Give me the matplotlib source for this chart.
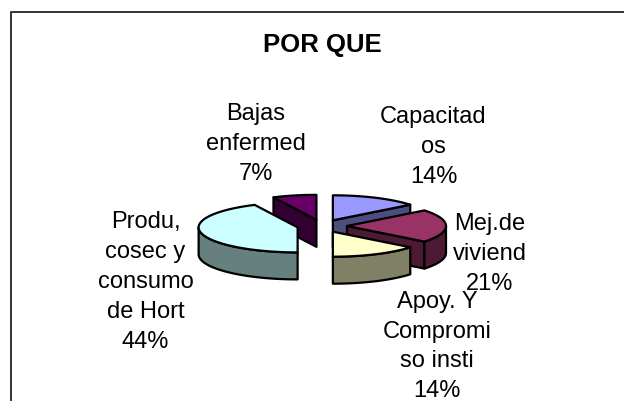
# pie chart redrawn by hand, exploded with a 3d look
import numpy as np
import matplotlib
matplotlib.use('Agg')
import matplotlib.pyplot as plt
from matplotlib.patches import Polygon

plt.rcParams['font.family'] = ['Liberation Sans', 'DejaVu Sans']

counts = [2, 3, 2, 6, 1]
labels = ['Capacitad\nos\n14%', 'Mej.de\nviviend\n21%', 'Apoy. Y\nCompromi\nso insti\n14%',
          'Produ,\ncosec y\nconsumo\nde Hort\n44%', 'Bajas\nenfermed\n7%']
top_colors = ['#9999FF', '#993366', '#FFFFCC', '#CCFFFF', '#660066']
side_colors = ['#4D4D80', '#4D1A33', '#808066', '#668080', '#330033']
label_pos = [(433.5, 147), (490, 254), (437, 346.5), (145.5, 282), (255.5, 144)]

# pie geometry in pixels
cx, cy = 322, 227
rx, ry = 99, 25
depth = 27
explode = 25


def xy(ang, x0, y0):
    a = np.radians(ang)
    return x0 + rx * np.sin(a), y0 - ry * np.cos(a)


def draw_slice(ax, a0, a1, top, side):
    mid = 0.5 * (a0 + a1)
    x0 = cx + explode * np.sin(np.radians(mid))
    y0 = cy - explode * ry / rx * np.cos(np.radians(mid))
    kw = dict(ec='black', lw=1.6, joinstyle='round')

    # radial faces, only the ones looking at us
    for ang, normal in [(a0, a0 - 90), (a1, a1 + 90)]:
        if -np.cos(np.radians(normal)) > 1e-6:
            ex, ey = xy(ang, x0, y0)
            pts = [(x0, y0), (ex, ey), (ex, ey + depth), (x0, y0 + depth)]
            ax.add_patch(Polygon(pts, fc=side, **kw))

    # outer wall, front half of the ellipse only
    lo, hi = max(a0, 90), min(a1, 270)
    if hi > lo:
        t = np.linspace(lo, hi, 60)
        ex, ey = xy(t, x0, y0)
        pts = np.r_[np.c_[ex, ey], np.c_[ex, ey + depth][::-1]]
        ax.add_patch(Polygon(pts, fc=side, **kw))

    t = np.linspace(a0, a1, 120)
    ex, ey = xy(t, x0, y0)
    pts = np.r_[[(x0, y0)], np.c_[ex, ey]]
    ax.add_patch(Polygon(pts, fc=top, **kw))


fig = plt.figure(figsize=(6.24, 4.02), dpi=100)
ax = fig.add_axes([0, 0, 1, 1])
ax.set_xlim(0, 624)
ax.set_ylim(402, 0)
ax.axis('off')

# chart frame, cut off at the right and bottom
ax.plot([10.5, 10.5, 624], [402, 13, 13], color='#333333', lw=1.4)

ax.text(322.5, 45, 'POR QUE', ha='center', va='center', fontsize=18.5, fontweight='bold')

frac = np.cumsum([0] + counts) / np.sum(counts) * 360.
order = [4, 0, 1, 3, 2]  # back to front
for i in order:
    draw_slice(ax, frac[i], frac[i + 1], top_colors[i], side_colors[i])

for lab, (x, y) in zip(labels, label_pos):
    ax.text(x, y, lab, ha='center', va='center', fontsize=17, linespacing=1.47)

fig.savefig('out.png', dpi=100)
